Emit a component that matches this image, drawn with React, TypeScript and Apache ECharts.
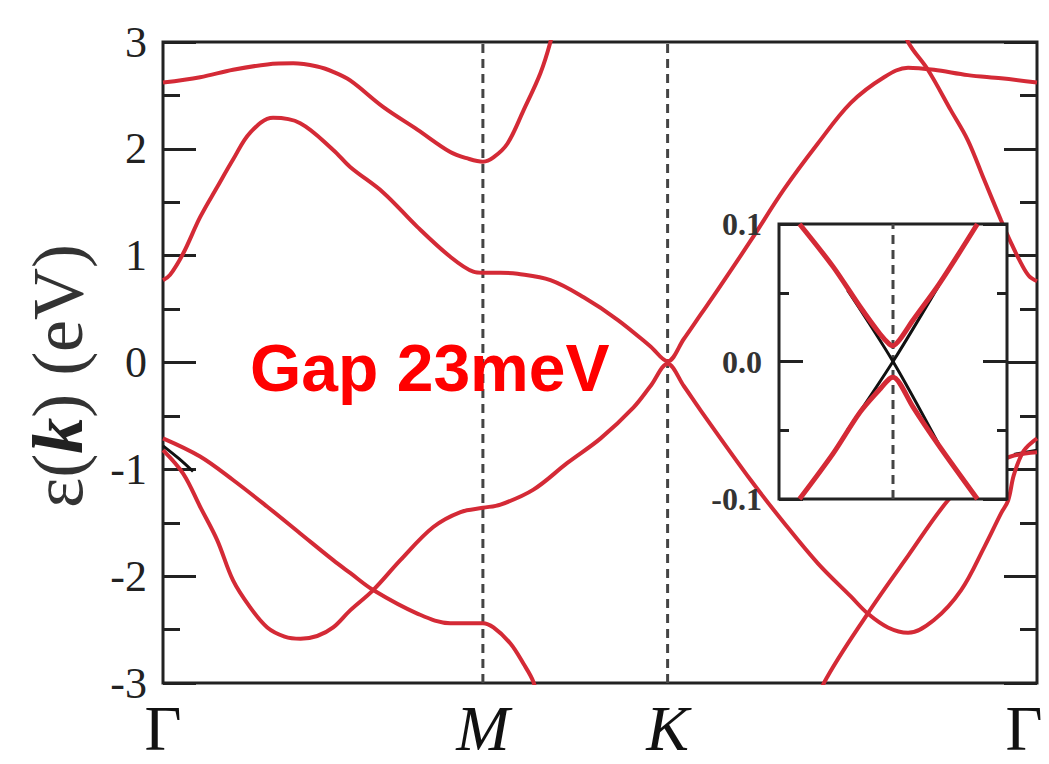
import { useEffect, useRef } from 'react';
import * as echarts from 'echarts';

// High-symmetry points along Γ–M–K–Γ (|ΓM| = 1)
const kTicks = [0, 1, 1.5774, 2.7321];
const kLabels = ['Γ', 'M', 'K', 'Γ'];
const dashedK = [1, 1.5774];
const energyMin = -3;
const energyMax = 3;

// Bands [k, E(eV)]
const bandC1 = [
  [0, 0.77], [0.022, 0.82], [0.063, 1.02], [0.116, 1.36], [0.169, 1.64], [0.219, 1.9], [0.272, 2.15],
  [0.344, 2.29], [0.429, 2.24], [0.532, 1.99], [0.585, 1.83], [0.689, 1.59], [0.795, 1.27], [0.898, 0.99],
  [0.97, 0.85], [1.0, 0.84], [1.055, 0.84], [1.108, 0.83], [1.211, 0.77], [1.315, 0.61], [1.421, 0.4],
  [1.524, 0.15], [1.5774, 0.0115], [1.628, 0.22], [1.681, 0.45], [1.734, 0.68], [1.837, 1.14], [1.941, 1.62],
  [2.047, 2.05], [2.15, 2.43], [2.254, 2.67], [2.329, 2.76], [2.41, 2.74], [2.516, 2.69], [2.62, 2.66], [2.7321, 2.62],
];
const bandC2a = [
  [0, 2.62], [0.116, 2.67], [0.219, 2.74], [0.326, 2.79], [0.407, 2.8], [0.482, 2.77], [0.532, 2.72],
  [0.585, 2.64], [0.689, 2.39], [0.795, 2.18], [0.898, 1.97], [0.952, 1.91], [1.0, 1.88], [1.033, 1.92],
  [1.077, 2.05], [1.127, 2.36], [1.18, 2.71], [1.211, 3.0], [1.225, 3.2],
];
const bandC2b = [
  [2.31, 3.2], [2.329, 3.0], [2.391, 2.74], [2.463, 2.36], [2.516, 2.08], [2.567, 1.71], [2.62, 1.33],
  [2.651, 1.12], [2.682, 0.93], [2.707, 0.81], [2.7321, 0.76],
];
const bandV1 = [
  [0, -0.82], [0.063, -1.04], [0.116, -1.35], [0.169, -1.66], [0.219, -2.04], [0.272, -2.29], [0.326, -2.48],
  [0.38, -2.565], [0.43, -2.585], [0.482, -2.56], [0.532, -2.48], [0.585, -2.32], [0.657, -2.13], [0.742, -1.85],
  [0.845, -1.54], [0.93, -1.4], [1.0, -1.36], [1.055, -1.33], [1.158, -1.19], [1.264, -0.94], [1.368, -0.71],
  [1.471, -0.42], [1.524, -0.22], [1.5774, -0.0115], [1.628, -0.22], [1.681, -0.45], [1.837, -1.1], [1.941, -1.5],
  [2.047, -1.88], [2.15, -2.19], [2.203, -2.35], [2.266, -2.48], [2.329, -2.53], [2.41, -2.41], [2.495, -2.13],
  [2.567, -1.73], [2.62, -1.41], [2.642, -1.29], [2.66, -1.05], [2.69, -0.83], [2.7321, -0.71],
];
const bandV2a = [
  [0, -0.71], [0.116, -0.88], [0.219, -1.1], [0.326, -1.35], [0.429, -1.6], [0.532, -1.85], [0.585, -1.97],
  [0.657, -2.13], [0.795, -2.35], [0.898, -2.44], [1.0, -2.44], [1.033, -2.48], [1.086, -2.63], [1.127, -2.82],
  [1.158, -2.99], [1.175, -3.2],
];
const bandV2b = [
  [2.05, -3.2], [2.066, -3.0], [2.203, -2.35], [2.329, -1.81], [2.454, -1.29], [2.55, -1.02], [2.65, -0.88], [2.7321, -0.84],
];
const blackLeft = [[0, -0.78], [0.05, -0.9], [0.094, -1.02]];
const blackRight = [[2.66, -0.86], [2.7321, -0.82]];

// Inset: zoom around K, E in eV
const insetUpper = [
  [-0.82, 0.1], [-0.526, 0.069], [-0.29, 0.04], [-0.114, 0.02], [-0.03, 0.0125], [0, 0.0115], [0.06, 0.016],
  [0.175, 0.03], [0.41, 0.057], [0.74, 0.1],
];
const insetLower = [
  [-0.82, -0.1], [-0.526, -0.067], [-0.29, -0.037], [-0.114, -0.02], [-0.03, -0.0125], [0, -0.0115], [0.06, -0.016],
  [0.175, -0.033], [0.41, -0.062], [0.74, -0.1],
];
const insetBlackA = [[-0.4, 0.052], [0, 0], [0.4, -0.06]];
const insetBlackB = [[-0.4, -0.05], [0, 0], [0.4, 0.055]];
const insetYTicks = [-0.1, 0, 0.1];

export default function App() {
  const ref = useRef<HTMLDivElement>(null);
  useEffect(() => {
    const chart = echarts.init(ref.current!, null, { renderer: 'svg' });
    const red = '#d42a36';
    const ink = '#222';
    const serif = "'Liberation Serif', 'DejaVu Serif', serif";

    const mainLine = (data: number[][], color = red, width = 4, z = 3) => ({
      type: 'line', data, xAxisIndex: 0, yAxisIndex: 0, symbol: 'none', smooth: 0.35,
      lineStyle: { color, width }, z, silent: true,
    });
    const insetLine = (data: number[][], color = red, width = 5, z = 13) => ({
      type: 'line', data, xAxisIndex: 1, yAxisIndex: 2, symbol: 'none', smooth: 0.3,
      lineStyle: { color, width }, z, silent: true,
    });
    const dashed = (x: number, yMin: number, yMax: number, xi: number, yi: number, z: number) => ({
      type: 'line', data: [[x, yMin], [x, yMax]], xAxisIndex: xi, yAxisIndex: yi, symbol: 'none',
      lineStyle: { color: '#444', width: 3, type: [9, 6] }, z, silent: true,
    });

    const yMain = (pos: 'left' | 'right', labels: boolean) => ({
      type: 'value', gridIndex: 0, position: pos, min: energyMin, max: energyMax, interval: 1,
      axisLine: { show: false, onZero: false },
      axisTick: { show: true, inside: true, length: 33, lineStyle: { color: ink, width: 3 } },
      minorTick: { show: true, splitNumber: 2, length: 17, lineStyle: { color: ink, width: 3 } },
      splitLine: { show: false },
      axisLabel: { show: labels, fontFamily: serif, fontSize: 44, color: ink, margin: 16 },
    });
    const yInset = (pos: 'left' | 'right', labels: boolean) => ({
      type: 'value', gridIndex: 1, position: pos, min: insetYTicks[0], max: insetYTicks[2], interval: 0.1, z: 11,
      axisLine: { show: false, onZero: false },
      axisTick: { show: true, inside: true, length: 24, lineStyle: { color: ink, width: 3 } },
      minorTick: { show: true, splitNumber: 2, length: 10, lineStyle: { color: ink, width: 3 } },
      splitLine: { show: false },
      axisLabel: {
        show: labels, fontFamily: serif, fontSize: 32, fontWeight: 'bold', color: '#333', margin: 17,
        formatter: (v: number) => (Math.abs(v) < 1e-9 ? '0.0' : v.toFixed(1)),
      },
    });

    chart.setOption({
      animation: false,
      backgroundColor: '#fff',
      grid: [
        {
          left: 163, right: 12, top: 42, bottom: 81, show: true, borderColor: ink, borderWidth: 3,
          backgroundColor: 'transparent', outerBoundsMode: 'none', containLabel: false,
        },
        {
          left: 779, top: 224, width: 228, height: 275, show: true, borderColor: ink, borderWidth: 3,
          backgroundColor: '#fff', z: 10, outerBoundsMode: 'none', containLabel: false,
        },
      ],
      xAxis: [
        {
          type: 'value', gridIndex: 0, min: kTicks[0], max: kTicks[3],
          axisLine: { show: false, onZero: false }, axisTick: { show: false }, splitLine: { show: false },
          axisLabel: {
            customValues: kTicks, showMinLabel: true, showMaxLabel: true, margin: 15, hideOverlap: false,
            lineHeight: 60,
            formatter: (v: number) => {
              const i = kTicks.findIndex((t) => Math.abs(t - v) < 1e-6);
              const s = i >= 0 ? kLabels[i] : '';
              if (i === kTicks.length - 1) return '{gr|Γ}';
              return s === 'Γ' ? '{g|Γ}' : `{i|${s}}`;
            },
            rich: {
              g: { fontFamily: serif, fontSize: 64, lineHeight: 60, color: '#111' },
              gr: { fontFamily: serif, fontSize: 64, lineHeight: 60, color: '#111', padding: [0, 26, 0, 0] },
              i: { fontFamily: serif, fontSize: 64, lineHeight: 60, fontStyle: 'italic', color: '#111' },
            },
          },
        },
        {
          type: 'value', gridIndex: 1, min: -1, max: 1, z: 11,
          axisLine: { show: false, onZero: false }, axisTick: { show: false }, splitLine: { show: false },
          axisLabel: { show: false },
        },
      ],
      yAxis: [yMain('left', true), yMain('right', false), yInset('left', true), yInset('right', false)],
      graphic: [
        {
          type: 'text', x: 250, y: 368, z: 20,
          style: {
            text: 'Gap 23meV', fill: '#ff0000', fontSize: 66, fontWeight: 'bold',
            fontFamily: "'Liberation Sans', Arial, sans-serif", verticalAlign: 'middle', align: 'left',
          },
        },
        {
          type: 'text', x: 58, y: 376, rotation: Math.PI / 2, z: 20,
          style: {
            text: '{a|ε(}{k|k}{a|) (eV)}', align: 'center', verticalAlign: 'middle',
            rich: {
              a: { fontFamily: serif, fontSize: 72, fill: '#333' },
              k: { fontFamily: serif, fontSize: 72, fontStyle: 'italic', fontWeight: 'bold', fill: '#222' },
            },
          },
        },
      ],
      series: [
        ...dashedK.map((x) => dashed(x, energyMin, energyMax, 0, 0, 2)),
        mainLine(blackLeft, '#111', 3, 2),
        mainLine(blackRight, '#111', 3, 2),
        mainLine(bandC1),
        mainLine(bandC2a),
        mainLine(bandC2b),
        mainLine(bandV1),
        mainLine(bandV2a),
        mainLine(bandV2b),
        dashed(0, insetYTicks[0], insetYTicks[2], 1, 2, 12),
        insetLine(insetBlackA, '#111', 3, 12),
        insetLine(insetBlackB, '#111', 3, 12),
        insetLine(insetUpper),
        insetLine(insetLower),
      ],
    });
    return () => chart.dispose();
  }, []);
  return <div ref={ref} style={{ position: 'fixed', left: 0, top: 0, width: 1049, height: 764 }} />;
}
